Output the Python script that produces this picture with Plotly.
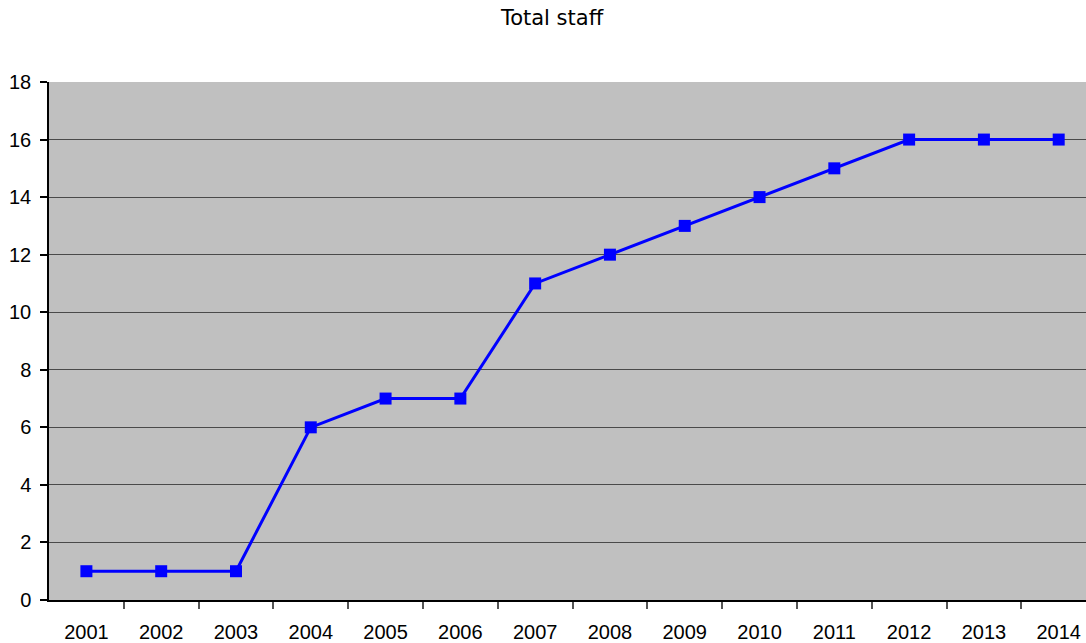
import plotly.graph_objects as go

years = ["2001", "2002", "2003", "2004", "2005", "2006", "2007",
         "2008", "2009", "2010", "2011", "2012", "2013", "2014"]
staff = [1, 1, 1, 6, 7, 7, 11, 12, 13, 14, 15, 16, 16, 16]
y_ticks = [0, 2, 4, 6, 8, 10, 12, 14, 16, 18]

pos = list(range(len(years)))
between = [p + 0.5 for p in pos[:-1]]
xr = [-0.5, 13.365]

fig = go.Figure()
fig.add_trace(go.Scatter(
    x=pos, y=staff, mode="lines+markers",
    line=dict(color="#0000FF", width=3),
    marker=dict(symbol="square", size=12, color="#0000FF"),
    showlegend=False, hoverinfo="skip",
))
# invisible trace on xaxis2 for labels
fig.add_trace(go.Scatter(x=pos, y=staff, xaxis="x2", mode="none",
                         showlegend=False, hoverinfo="skip"))

fig.update_layout(
    width=1086, height=643,
    margin=dict(l=49, r=0, t=82, b=43),
    paper_bgcolor="white", plot_bgcolor="#C0C0C0",
    font=dict(family="Liberation Sans, Arial, sans-serif", size=20, color="black"),
    title=dict(text="Total staff", x=552 / 1086, xanchor="center",
               y=1 - 18 / 643, yanchor="middle", xref="container", yref="container",
               font=dict(family="DejaVu Sans", size=21, color="black")),
    xaxis=dict(range=xr, tickmode="array", tickvals=between, showticklabels=False,
               ticks="outside", ticklen=7, tickcolor="#555555", tickwidth=1.5,
               showgrid=False, zeroline=False, showline=True, linecolor="black",
               linewidth=1.5),
    xaxis2=dict(range=xr, overlaying="x", anchor="y", side="bottom",
                tickmode="array", tickvals=pos, ticktext=years, ticks="",
                ticklabelstandoff=18, showgrid=False, zeroline=False, showline=False),
    yaxis=dict(range=[0, 18], tickmode="array", tickvals=y_ticks,
               ticks="outside", ticklen=7, tickcolor="black", tickwidth=1.5,
               ticklabelstandoff=5,
               showgrid=True, gridcolor="#4a4a4a", gridwidth=1,
               zeroline=False, showline=True, linecolor="black", linewidth=1.5),
)

fig.write_html("out.html")
